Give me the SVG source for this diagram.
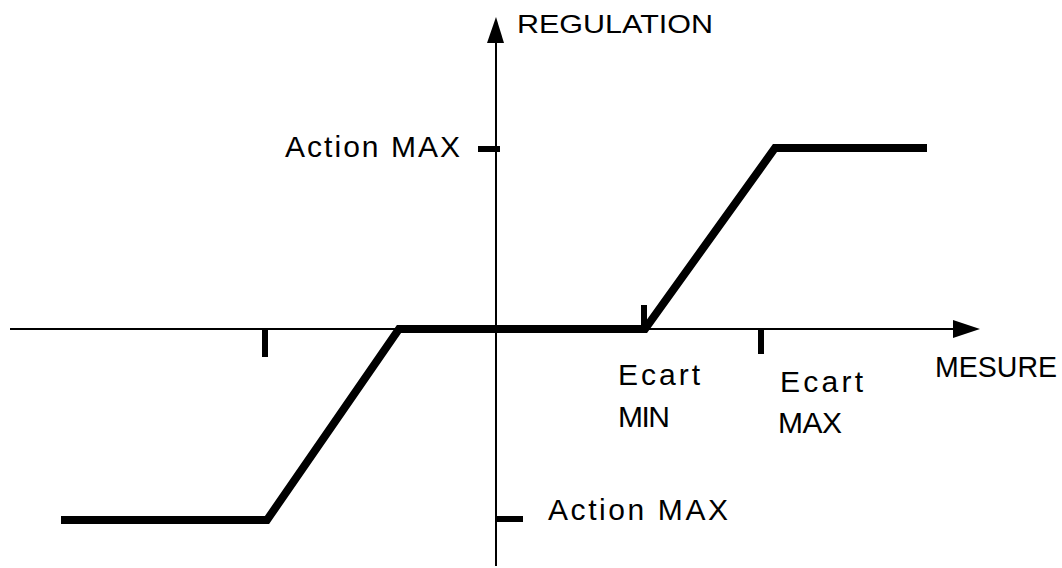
<svg xmlns="http://www.w3.org/2000/svg" width="1062" height="568" viewBox="0 0 1062 568">
<style>
.lbl{font-family:"Liberation Sans",Arial,sans-serif;font-size:30px;fill:#000}
.axis{stroke:#000;stroke-width:2;fill:none}
.curve{stroke:#000;stroke-width:8;fill:none;stroke-linejoin:miter}
.tick{stroke:#000;stroke-width:6;fill:none}
</style>
<rect width="1062" height="568" fill="#fff"/>
<g id="connectors">
<line class="axis" x1="10" y1="329" x2="958" y2="329"/>
<polygon points="953,320 980,329 953,338" fill="#000"/>
<line class="axis" x1="496" y1="566" x2="496" y2="40"/>
<polygon points="487,43 496,17 504,43" fill="#000"/>
</g>
<g id="curve">
<polyline class="curve" points="61,520 267,520 399,329 645,329 775,148 927,148"/>
</g>
<g id="ticks">
<line class="tick" x1="265" y1="329" x2="265" y2="357"/>
<line class="tick" x1="761" y1="329" x2="761" y2="354"/>
<line class="tick" x1="644" y1="305" x2="644" y2="329"/>
<line class="tick" x1="478" y1="149" x2="500" y2="149"/>
<line class="tick" x1="495" y1="519" x2="523" y2="519"/>
</g>
<g id="label-regulation"><text class="lbl" style="font-size:26px" x="517" y="33" textLength="196" lengthAdjust="spacingAndGlyphs">REGULATION</text></g>
<g id="label-mesure"><text class="lbl" style="font-size:29px" x="935" y="377" textLength="122" lengthAdjust="spacingAndGlyphs">MESURE</text></g>
<g id="label-action-max-top"><text class="lbl" x="285" y="157" textLength="175">Action  MAX</text></g>
<g id="label-action-max-bottom"><text class="lbl" x="548" y="520" textLength="180">Action  MAX</text></g>
<g id="label-ecart-min"><text class="lbl" x="618" y="385" textLength="82">Ecart</text><text class="lbl" x="618" y="427" textLength="52">MIN</text></g>
<g id="label-ecart-max"><text class="lbl" x="780" y="392" textLength="83">Ecart</text><text class="lbl" x="778" y="433" textLength="64">MAX</text></g>
</svg>
